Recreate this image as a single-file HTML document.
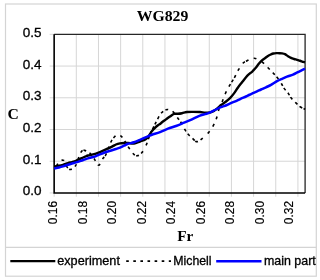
<!DOCTYPE html>
<html><head><meta charset="utf-8"><style>
html,body{margin:0;padding:0;background:#fff;width:320px;height:280px;overflow:hidden;}
svg{display:block;will-change:transform;}
</style></head><body>
<svg width="320" height="280" viewBox="0 0 320 280">
<rect x="0" y="0" width="320" height="280" fill="#fff"/>
<rect x="5.5" y="4" width="310.8" height="272.2" fill="none" stroke="#d4d4d4" stroke-width="1.2"/>
<line x1="5.5" y1="247.4" x2="316.3" y2="247.4" stroke="#d4d4d4" stroke-width="1.2"/>
<line x1="76.31" y1="34.35" x2="76.31" y2="196.75" stroke="#d6d6d6" stroke-width="1"/>
<line x1="98.47" y1="34.35" x2="98.47" y2="196.75" stroke="#d6d6d6" stroke-width="1"/>
<line x1="120.63" y1="34.35" x2="120.63" y2="196.75" stroke="#d6d6d6" stroke-width="1"/>
<line x1="142.79" y1="34.35" x2="142.79" y2="196.75" stroke="#d6d6d6" stroke-width="1"/>
<line x1="164.95" y1="34.35" x2="164.95" y2="196.75" stroke="#d6d6d6" stroke-width="1"/>
<line x1="187.11" y1="34.35" x2="187.11" y2="196.75" stroke="#d6d6d6" stroke-width="1"/>
<line x1="209.27" y1="34.35" x2="209.27" y2="196.75" stroke="#d6d6d6" stroke-width="1"/>
<line x1="231.43" y1="34.35" x2="231.43" y2="196.75" stroke="#d6d6d6" stroke-width="1"/>
<line x1="253.59" y1="34.35" x2="253.59" y2="196.75" stroke="#d6d6d6" stroke-width="1"/>
<line x1="275.75" y1="34.35" x2="275.75" y2="196.75" stroke="#d6d6d6" stroke-width="1"/>
<line x1="297.91" y1="34.35" x2="297.91" y2="196.75" stroke="#d6d6d6" stroke-width="1"/>
<line x1="49.65" y1="161.23" x2="305.10" y2="161.23" stroke="#d6d6d6" stroke-width="1"/>
<line x1="49.65" y1="129.51" x2="305.10" y2="129.51" stroke="#d6d6d6" stroke-width="1"/>
<line x1="49.65" y1="97.79" x2="305.10" y2="97.79" stroke="#d6d6d6" stroke-width="1"/>
<line x1="49.65" y1="66.07" x2="305.10" y2="66.07" stroke="#d6d6d6" stroke-width="1"/>
<line x1="49.65" y1="34.35" x2="54.15" y2="34.35" stroke="#d6d6d6" stroke-width="1"/>
<line x1="49.65" y1="192.95" x2="54.15" y2="192.95" stroke="#d6d6d6" stroke-width="1"/>
<line x1="54.15" y1="192.95" x2="54.15" y2="196.75" stroke="#d6d6d6" stroke-width="1"/>
<path d="M54.15 34.35 H305.10 V192.95" fill="none" stroke="#262626" stroke-width="1.3"/>
<path d="M54.15 34.35 V192.95 H305.10" fill="none" stroke="#000" stroke-width="1.6"/>
<path d="M54.20 168.80 C54.68 168.15 56.10 166.38 57.10 164.90 C58.10 163.42 59.25 160.68 60.20 159.90 C61.15 159.12 62.10 160.00 62.80 160.20 C63.50 160.40 63.72 160.00 64.40 161.10 C65.08 162.20 65.90 165.40 66.90 166.80 C67.90 168.20 68.95 169.70 70.40 169.50 C71.85 169.30 74.28 167.40 75.60 165.60 C76.92 163.80 77.35 161.02 78.30 158.70 C79.25 156.38 80.25 153.08 81.30 151.70 C82.35 150.32 83.10 150.08 84.60 150.40 C86.10 150.72 88.73 152.25 90.30 153.60 C91.87 154.95 92.60 156.57 94.00 158.50 C95.40 160.43 97.20 165.22 98.70 165.20 C100.20 165.18 101.83 160.10 103.00 158.40 C104.17 156.70 104.37 157.77 105.70 155.00 C107.03 152.23 109.60 144.75 111.00 141.80 C112.40 138.85 113.02 138.43 114.10 137.30 C115.18 136.17 116.33 135.18 117.50 135.00 C118.67 134.82 119.77 135.00 121.10 136.20 C122.43 137.40 124.23 140.32 125.50 142.20 C126.77 144.08 127.40 145.57 128.70 147.50 C130.00 149.43 131.92 152.42 133.30 153.80 C134.68 155.18 135.58 155.97 137.00 155.80 C138.42 155.63 140.25 154.63 141.80 152.80 C143.35 150.97 145.17 147.18 146.30 144.80 C147.43 142.42 147.87 140.43 148.60 138.50 C149.33 136.57 149.60 135.65 150.70 133.20 C151.80 130.75 153.98 126.28 155.20 123.80 C156.42 121.32 156.93 120.15 158.00 118.30 C159.07 116.45 160.25 114.13 161.60 112.70 C162.95 111.27 164.78 110.15 166.10 109.70 C167.42 109.25 168.32 109.63 169.50 110.00 C170.68 110.37 171.83 110.57 173.20 111.90 C174.57 113.23 176.40 116.23 177.70 118.00 C179.00 119.77 179.82 120.60 181.00 122.50 C182.18 124.40 183.60 127.43 184.80 129.40 C186.00 131.37 186.83 132.73 188.20 134.30 C189.57 135.87 191.73 137.60 193.00 138.80 C194.27 140.00 194.88 141.10 195.80 141.50 C196.72 141.90 197.60 141.57 198.50 141.20 C199.40 140.83 199.60 140.65 201.20 139.30 C202.80 137.95 206.12 135.32 208.10 133.10 C210.08 130.88 211.72 128.42 213.10 126.00 C214.48 123.58 215.48 121.22 216.40 118.60 C217.32 115.98 217.62 113.15 218.60 110.30 C219.58 107.45 221.17 104.30 222.30 101.50 C223.43 98.70 224.23 96.08 225.40 93.50 C226.57 90.92 227.77 88.70 229.30 86.00 C230.83 83.30 233.12 79.93 234.60 77.30 C236.08 74.67 236.78 72.58 238.20 70.20 C239.62 67.82 241.72 64.53 243.10 63.00 C244.48 61.47 245.35 61.62 246.50 61.00 C247.65 60.38 248.72 59.75 250.00 59.30 C251.28 58.85 252.87 58.25 254.20 58.30 C255.53 58.35 256.63 58.97 258.00 59.60 C259.37 60.23 260.73 60.75 262.40 62.10 C264.07 63.45 266.22 65.88 268.00 67.70 C269.78 69.52 271.60 71.40 273.10 73.00 C274.60 74.60 275.60 75.52 277.00 77.30 C278.40 79.08 280.32 81.85 281.50 83.70 C282.68 85.55 282.98 86.82 284.10 88.40 C285.22 89.98 287.08 91.67 288.20 93.20 C289.32 94.73 289.57 96.03 290.80 97.60 C292.03 99.17 294.08 101.10 295.60 102.60 C297.12 104.10 298.52 105.58 299.90 106.60 C301.28 107.62 303.03 108.25 303.90 108.70 C304.77 109.15 304.90 109.20 305.10 109.30" fill="none" stroke="#000" stroke-width="1.6" stroke-linejoin="round" stroke-dasharray="0.00 3.41 2.90 5.80 2.90 5.30 2.90 1.75 2.90 3.72 2.90 4.54 2.90 4.73 2.90 0.93 2.90 3.68 2.90 4.36 2.90 4.36 2.90 5.32 2.90 1.49 2.90 4.21 2.90 4.21 2.90 2.60 2.90 5.22 2.90 3.92 2.90 3.92 2.90 4.91 2.90 1.48 2.90 2.88 2.90 6.30 2.90 3.81 2.90 2.80 2.90 2.31 2.90 2.31 2.90 3.27 2.90 3.77 2.90 2.55 2.90 4.80 2.90 4.69 2.90 2.68 2.90 4.98 2.90 3.07 2.90 3.68 2.90 1.01 2.90 3.22 2.90 6.38 2.90 5.80 2.90 5.21 2.90 5.69 2.90 6.65 2.90 5.68 2.90 5.56 2.90 2.19 2.90 2.19 2.90 5.06 2.90 5.82 2.90 1.10 2.90 5.34 2.90 6.22 2.90 5.02 2.90 4.46 2.90 2.91 2.90 4.93 2.90 2.48 2.90 3.42 2.90 2.22 2.90 4.04 2.90 2.98 2.90 1.63 2.90 470.70"/>
<path d="M54.20 166.60 C55.00 166.47 57.53 166.10 59.00 165.80 C60.47 165.50 61.50 165.25 63.00 164.80 C64.50 164.35 66.50 163.55 68.00 163.10 C69.50 162.65 70.67 162.48 72.00 162.10 C73.33 161.72 74.50 161.42 76.00 160.80 C77.50 160.18 79.50 159.08 81.00 158.40 C82.50 157.72 83.83 157.18 85.00 156.70 C86.17 156.22 86.83 155.83 88.00 155.50 C89.17 155.17 90.67 155.02 92.00 154.70 C93.33 154.38 94.67 154.03 96.00 153.60 C97.33 153.17 98.33 152.80 100.00 152.10 C101.67 151.40 104.00 150.32 106.00 149.40 C108.00 148.48 110.33 147.42 112.00 146.60 C113.67 145.78 114.67 145.03 116.00 144.50 C117.33 143.97 118.67 143.65 120.00 143.40 C121.33 143.15 122.67 143.07 124.00 143.00 C125.33 142.93 126.33 142.92 128.00 143.00 C129.67 143.08 132.00 143.75 134.00 143.50 C136.00 143.25 138.33 142.05 140.00 141.50 C141.67 140.95 142.92 140.68 144.00 140.20 C145.08 139.72 145.75 139.25 146.50 138.60 C147.25 137.95 147.83 137.18 148.50 136.30 C149.17 135.42 149.92 134.18 150.50 133.30 C151.08 132.42 151.25 131.92 152.00 131.00 C152.75 130.08 154.00 128.75 155.00 127.80 C156.00 126.85 157.17 125.93 158.00 125.30 C158.83 124.67 159.33 124.50 160.00 124.00 C160.67 123.50 161.00 123.07 162.00 122.30 C163.00 121.53 164.67 120.37 166.00 119.40 C167.33 118.43 168.67 117.42 170.00 116.50 C171.33 115.58 172.67 114.35 174.00 113.90 C175.33 113.45 176.67 113.92 178.00 113.80 C179.33 113.68 180.83 113.43 182.00 113.20 C183.17 112.97 184.17 112.60 185.00 112.40 C185.83 112.20 185.83 112.08 187.00 112.00 C188.17 111.92 189.83 111.90 192.00 111.90 C194.17 111.90 197.83 111.88 200.00 112.00 C202.17 112.12 203.33 112.52 205.00 112.60 C206.67 112.68 208.50 112.78 210.00 112.50 C211.50 112.22 212.83 111.55 214.00 110.90 C215.17 110.25 216.08 109.35 217.00 108.60 C217.92 107.85 218.83 107.00 219.50 106.40 C220.17 105.80 220.02 105.73 221.00 105.00 C221.98 104.27 223.90 103.15 225.40 102.00 C226.90 100.85 228.57 99.53 230.00 98.10 C231.43 96.67 232.67 95.17 234.00 93.40 C235.33 91.63 236.67 89.35 238.00 87.50 C239.33 85.65 240.67 84.02 242.00 82.30 C243.33 80.58 244.83 78.55 246.00 77.20 C247.17 75.85 248.10 75.00 249.00 74.20 C249.90 73.40 250.73 72.97 251.40 72.40 C252.07 71.83 252.23 71.62 253.00 70.80 C253.77 69.98 255.00 68.70 256.00 67.50 C257.00 66.30 258.00 64.80 259.00 63.60 C260.00 62.40 261.00 61.20 262.00 60.30 C263.00 59.40 264.00 58.93 265.00 58.20 C266.00 57.47 267.00 56.53 268.00 55.90 C269.00 55.27 270.10 54.80 271.00 54.40 C271.90 54.00 272.52 53.72 273.40 53.50 C274.28 53.28 275.37 53.15 276.30 53.10 C277.23 53.05 278.05 53.15 279.00 53.20 C279.95 53.25 281.00 53.23 282.00 53.40 C283.00 53.57 284.00 53.73 285.00 54.20 C286.00 54.67 287.00 55.58 288.00 56.20 C289.00 56.82 290.00 57.43 291.00 57.90 C292.00 58.37 293.00 58.68 294.00 59.00 C295.00 59.32 296.00 59.51 297.00 59.80 C298.00 60.09 298.92 60.40 300.00 60.75 C301.08 61.10 302.67 61.64 303.50 61.90 C304.33 62.16 304.75 62.23 305.00 62.30" fill="none" stroke="#000" stroke-width="2.4" stroke-linejoin="round"/>
<path d="M54.20 168.50 C55.00 168.33 57.53 167.85 59.00 167.50 C60.47 167.15 61.50 166.87 63.00 166.40 C64.50 165.93 66.50 165.18 68.00 164.70 C69.50 164.22 70.50 163.93 72.00 163.50 C73.50 163.07 75.50 162.55 77.00 162.10 C78.50 161.65 79.67 161.25 81.00 160.80 C82.33 160.35 83.83 159.80 85.00 159.40 C86.17 159.00 86.83 158.75 88.00 158.40 C89.17 158.05 90.67 157.68 92.00 157.30 C93.33 156.92 94.67 156.58 96.00 156.10 C97.33 155.62 98.33 155.08 100.00 154.40 C101.67 153.72 104.00 152.70 106.00 152.00 C108.00 151.30 110.33 150.70 112.00 150.20 C113.67 149.70 114.67 149.43 116.00 149.00 C117.33 148.57 118.67 148.15 120.00 147.60 C121.33 147.05 122.67 146.33 124.00 145.70 C125.33 145.07 126.33 144.37 128.00 143.80 C129.67 143.23 132.00 142.97 134.00 142.30 C136.00 141.63 137.67 140.80 140.00 139.80 C142.33 138.80 146.00 137.15 148.00 136.30 C150.00 135.45 150.00 135.38 152.00 134.70 C154.00 134.02 157.33 133.20 160.00 132.20 C162.67 131.20 165.33 129.73 168.00 128.70 C170.67 127.67 173.33 127.00 176.00 126.00 C178.67 125.00 181.33 123.82 184.00 122.70 C186.67 121.58 189.33 120.47 192.00 119.30 C194.67 118.13 197.83 116.57 200.00 115.70 C202.17 114.83 203.50 114.57 205.00 114.10 C206.50 113.63 207.33 113.58 209.00 112.90 C210.67 112.22 213.00 110.98 215.00 110.00 C217.00 109.02 219.50 107.63 221.00 107.00 C222.50 106.37 222.17 106.92 224.00 106.20 C225.83 105.48 229.83 103.63 232.00 102.70 C234.17 101.77 235.50 101.27 237.00 100.60 C238.50 99.93 239.50 99.38 241.00 98.70 C242.50 98.02 244.67 97.12 246.00 96.50 C247.33 95.88 248.00 95.48 249.00 95.00 C250.00 94.52 250.67 94.20 252.00 93.60 C253.33 93.00 255.50 92.08 257.00 91.40 C258.50 90.72 259.50 90.18 261.00 89.50 C262.50 88.82 264.33 88.07 266.00 87.30 C267.67 86.53 269.17 85.92 271.00 84.90 C272.83 83.88 275.17 82.22 277.00 81.20 C278.83 80.18 280.33 79.55 282.00 78.80 C283.67 78.05 285.17 77.40 287.00 76.70 C288.83 76.00 291.27 75.32 293.00 74.60 C294.73 73.88 295.90 73.15 297.40 72.40 C298.90 71.65 300.73 70.73 302.00 70.10 C303.27 69.47 304.50 68.85 305.00 68.60" fill="none" stroke="#0000ff" stroke-width="2.5" stroke-linejoin="round"/>
<text transform="translate(162.50 21.00) scale(1.095 1)" font-family="Liberation Serif" font-size="14.40" font-weight="bold" text-anchor="middle" fill="#000">WG829</text>
<text transform="translate(7.60 118.80) scale(1.090 1)" font-family="Liberation Serif" font-size="14.40" font-weight="bold" text-anchor="start" fill="#000">C</text>
<text transform="translate(185.20 241.30) scale(1.060 1)" font-family="Liberation Serif" font-size="14.40" font-weight="bold" text-anchor="middle" fill="#000">Fr</text>
<text transform="translate(41.60 195.30) scale(1.063 1)" font-family="Liberation Sans" font-size="12.70" font-weight="normal" text-anchor="end" fill="#000" stroke="#000" stroke-width="0.30">0.0</text>
<text transform="translate(41.60 163.60) scale(1.063 1)" font-family="Liberation Sans" font-size="12.70" font-weight="normal" text-anchor="end" fill="#000" stroke="#000" stroke-width="0.30">0.1</text>
<text transform="translate(41.60 131.90) scale(1.063 1)" font-family="Liberation Sans" font-size="12.70" font-weight="normal" text-anchor="end" fill="#000" stroke="#000" stroke-width="0.30">0.2</text>
<text transform="translate(41.60 100.20) scale(1.063 1)" font-family="Liberation Sans" font-size="12.70" font-weight="normal" text-anchor="end" fill="#000" stroke="#000" stroke-width="0.30">0.3</text>
<text transform="translate(41.60 68.50) scale(1.063 1)" font-family="Liberation Sans" font-size="12.70" font-weight="normal" text-anchor="end" fill="#000" stroke="#000" stroke-width="0.30">0.4</text>
<text transform="translate(41.60 36.80) scale(1.063 1)" font-family="Liberation Sans" font-size="12.70" font-weight="normal" text-anchor="end" fill="#000" stroke="#000" stroke-width="0.30">0.5</text>
<text transform="translate(57.00 201.00) scale(1.090 1) rotate(-90)" font-family="Liberation Sans" font-size="11.90" text-anchor="end" fill="#000" stroke="#000" stroke-width="0.15">0.16</text>
<text transform="translate(86.55 201.00) scale(1.090 1) rotate(-90)" font-family="Liberation Sans" font-size="11.90" text-anchor="end" fill="#000" stroke="#000" stroke-width="0.15">0.18</text>
<text transform="translate(116.10 201.00) scale(1.090 1) rotate(-90)" font-family="Liberation Sans" font-size="11.90" text-anchor="end" fill="#000" stroke="#000" stroke-width="0.15">0.20</text>
<text transform="translate(145.65 201.00) scale(1.090 1) rotate(-90)" font-family="Liberation Sans" font-size="11.90" text-anchor="end" fill="#000" stroke="#000" stroke-width="0.15">0.22</text>
<text transform="translate(175.20 201.00) scale(1.090 1) rotate(-90)" font-family="Liberation Sans" font-size="11.90" text-anchor="end" fill="#000" stroke="#000" stroke-width="0.15">0.24</text>
<text transform="translate(204.75 201.00) scale(1.090 1) rotate(-90)" font-family="Liberation Sans" font-size="11.90" text-anchor="end" fill="#000" stroke="#000" stroke-width="0.15">0.26</text>
<text transform="translate(234.30 201.00) scale(1.090 1) rotate(-90)" font-family="Liberation Sans" font-size="11.90" text-anchor="end" fill="#000" stroke="#000" stroke-width="0.15">0.28</text>
<text transform="translate(263.85 201.00) scale(1.090 1) rotate(-90)" font-family="Liberation Sans" font-size="11.90" text-anchor="end" fill="#000" stroke="#000" stroke-width="0.15">0.30</text>
<text transform="translate(293.40 201.00) scale(1.090 1) rotate(-90)" font-family="Liberation Sans" font-size="11.90" text-anchor="end" fill="#000" stroke="#000" stroke-width="0.15">0.32</text>
<line x1="10.3" y1="261.2" x2="55.3" y2="261.2" stroke="#000" stroke-width="2.2"/>
<text transform="translate(57.20 265.20) scale(1.040 1)" font-family="Liberation Sans" font-size="12.20" font-weight="normal" text-anchor="start" fill="#000" stroke="#000" stroke-width="0.30">experiment</text>
<line x1="126.2" y1="261.1" x2="171" y2="261.1" stroke="#000" stroke-width="1.8" stroke-dasharray="2.6 4.5"/>
<text transform="translate(173.20 265.20) scale(1.012 1)" font-family="Liberation Sans" font-size="12.20" font-weight="normal" text-anchor="start" fill="#000" stroke="#000" stroke-width="0.30">Michell</text>
<line x1="216.2" y1="261.2" x2="261.5" y2="261.2" stroke="#0000ff" stroke-width="2.4"/>
<text transform="translate(263.90 265.20) scale(1.020 1)" font-family="Liberation Sans" font-size="12.20" font-weight="normal" text-anchor="start" fill="#000" stroke="#000" stroke-width="0.30">main part</text>
</svg>
</body></html>
